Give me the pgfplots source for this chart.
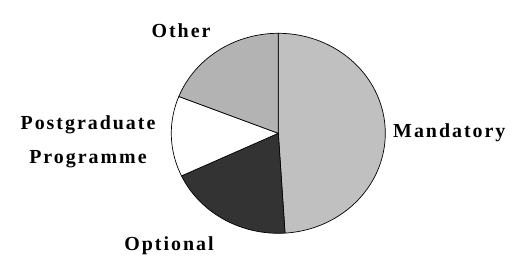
\documentclass[border=0pt]{standalone}
\usepackage{pgfplots}
\pgfplotsset{compat=1.18}
\usepackage{fontspec}
\setmainfont{Liberation Serif}[LetterSpace=10]
\definecolor{cMand}{HTML}{C0C0C0}
\definecolor{cOpt}{HTML}{333333}
\definecolor{cPost}{HTML}{FFFFFF}
\definecolor{cOther}{HTML}{B3B3B3}
% shares (percent), clockwise from the top
\def\vMand{49}
\def\vOpt{19}
\def\vPost{13}
\def\vOther{19}
\pgfmathsetmacro{\aA}{90}
\pgfmathsetmacro{\aB}{\aA-3.6*\vMand}
\pgfmathsetmacro{\aC}{\aB-3.6*\vOpt}
\pgfmathsetmacro{\aD}{\aC-3.6*\vPost}
\pgfmathsetmacro{\aE}{\aD-3.6*\vOther}
\def\cx{278.3}
\def\cy{123.7}
\def\rx{107}
\def\ry{100}
\tikzset{lbl/.style={font=\fontsize{20}{24}\selectfont\bfseries, inner sep=0pt}}
\begin{document}
\begin{tikzpicture}
\begin{axis}[
  scale only axis, width=523bp, height=257bp,
  xmin=0, xmax=523, ymin=0, ymax=257,
  hide axis, clip=false,
]
\path (axis cs:0,0) rectangle (axis cs:523,257);
\addplot[fill=cMand, draw=black, line width=0.7pt, domain=\aB:\aA, samples=120]
  ({\cx+\rx*cos(x)},{\cy+\ry*sin(x)}) -- (axis cs:\cx,\cy) -- cycle;
\addplot[fill=cOpt, draw=black, line width=0.7pt, domain=\aC:\aB, samples=60]
  ({\cx+\rx*cos(x)},{\cy+\ry*sin(x)}) -- (axis cs:\cx,\cy) -- cycle;
\addplot[fill=cPost, draw=black, line width=0.7pt, domain=\aD:\aC, samples=50]
  ({\cx+\rx*cos(x)},{\cy+\ry*sin(x)}) -- (axis cs:\cx,\cy) -- cycle;
\addplot[fill=cOther, draw=black, line width=0.7pt, domain=\aE:\aD, samples=60]
  ({\cx+\rx*cos(x)},{\cy+\ry*sin(x)}) -- (axis cs:\cx,\cy) -- cycle;
\node[lbl, anchor=base] at (axis cs:181,219.7) {Other};
\node[lbl, anchor=base west] at (axis cs:393,119.7) {Mandatory};
\node[lbl, anchor=base] at (axis cs:88,127.7) {Postgraduate};
\node[lbl, anchor=base] at (axis cs:88,93.7) {Programme};
\node[lbl, anchor=base] at (axis cs:169,7) {Optional};
\end{axis}
\end{tikzpicture}
\end{document}
